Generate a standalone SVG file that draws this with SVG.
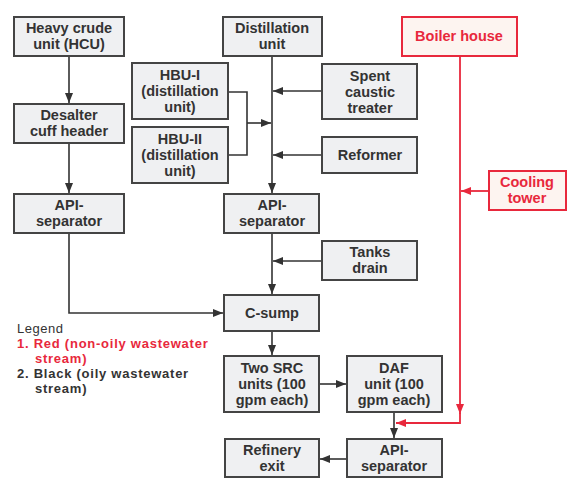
<svg xmlns="http://www.w3.org/2000/svg" width="579" height="488" viewBox="0 0 579 488">
<style>
.box rect{fill:#eff0f2;stroke:#444;stroke-width:2}
.rbox rect{fill:#fdf4f0;stroke:#e8283c;stroke-width:2}
text{font-family:"Liberation Sans",Arial,sans-serif;font-size:14.5px;font-weight:bold;fill:#333;text-anchor:middle}
.rbox text{fill:#e8283c}
.leg{text-anchor:start;font-size:13px;letter-spacing:0.75px}
.lt{font-weight:normal;letter-spacing:0.5px}
.red{fill:#e8283c}
.c{fill:none;stroke:#333;stroke-width:1.6}
.r{fill:none;stroke:#e8283c;stroke-width:1.8}
</style>
<defs>
<marker id="a" viewBox="0 0 10 8" refX="10" refY="4" markerWidth="10" markerHeight="8" markerUnits="userSpaceOnUse" orient="auto"><path d="M0,0L10,4L0,8z" fill="#333"/></marker>
<marker id="ar" viewBox="0 0 10 8" refX="10" refY="4" markerWidth="10" markerHeight="8" markerUnits="userSpaceOnUse" orient="auto"><path d="M0,0L10,4L0,8z" fill="#e8283c"/></marker>
</defs>
<g id="connectors">
<path class="c" d="M69,56V103" marker-end="url(#a)"/>
<path class="c" d="M69,143V193" marker-end="url(#a)"/>
<path class="c" d="M69,233V313H223" marker-end="url(#a)"/>
<path class="c" d="M272,56V193" marker-end="url(#a)"/>
<path class="c" d="M322,91H273" marker-end="url(#a)"/>
<path class="c" d="M322,155H273" marker-end="url(#a)"/>
<path class="c" d="M228,92H247V155H228"/>
<path class="c" d="M247,123H271" marker-end="url(#a)"/>
<path class="c" d="M272,233V294" marker-end="url(#a)"/>
<path class="c" d="M322,261H273" marker-end="url(#a)"/>
<path class="c" d="M272,331V355" marker-end="url(#a)"/>
<path class="c" d="M319,384H346" marker-end="url(#a)"/>
<path class="c" d="M394,412V438" marker-end="url(#a)"/>
<path class="c" d="M347,459H320" marker-end="url(#a)"/>
<path class="r" d="M460,56V414" marker-end="url(#ar)"/>
<path class="r" d="M460,413V423H396" marker-end="url(#ar)"/>
<path class="r" d="M489,191H461" marker-end="url(#ar)"/>
</g>
<g id="hcu" class="box"><rect x="14" y="17" width="110" height="39"/><text x="69" y="33">Heavy crude</text><text x="69" y="49">unit (HCU)</text></g>
<g id="desalter" class="box"><rect x="14" y="104" width="110" height="39"/><text x="69" y="120">Desalter</text><text x="69" y="136">cuff header</text></g>
<g id="api1" class="box"><rect x="14" y="194" width="110" height="39"/><text x="69" y="210">API-</text><text x="69" y="226">separator</text></g>
<g id="distillation" class="box"><rect x="223" y="17" width="99" height="39"/><text x="272" y="33">Distillation</text><text x="272" y="49">unit</text></g>
<g id="hbu1" class="box"><rect x="132" y="63" width="96" height="56"/><text x="180" y="80">HBU-I</text><text x="180" y="96">(distillation</text><text x="180" y="112">unit)</text></g>
<g id="hbu2" class="box"><rect x="132" y="127" width="96" height="56"/><text x="180" y="144">HBU-II</text><text x="180" y="160">(distillation</text><text x="180" y="176">unit)</text></g>
<g id="spent" class="box"><rect x="322" y="64" width="95" height="55"/><text x="370" y="81">Spent</text><text x="370" y="97">caustic</text><text x="370" y="113">treater</text></g>
<g id="reformer" class="box"><rect x="322" y="137" width="95" height="36"/><text x="370" y="160">Reformer</text></g>
<g id="api2" class="box"><rect x="224" y="194" width="95" height="39"/><text x="272" y="210">API-</text><text x="272" y="226">separator</text></g>
<g id="tanks" class="box"><rect x="322" y="241" width="95" height="39"/><text x="370" y="257">Tanks</text><text x="370" y="273">drain</text></g>
<g id="csump" class="box"><rect x="224" y="295" width="95" height="36"/><text x="272" y="318">C-sump</text></g>
<g id="src" class="box"><rect x="224" y="356" width="95" height="56"/><text x="272" y="373">Two SRC</text><text x="272" y="389">units (100</text><text x="272" y="405">gpm each)</text></g>
<g id="daf" class="box"><rect x="347" y="356" width="95" height="56"/><text x="394" y="373">DAF</text><text x="394" y="389">unit (100</text><text x="394" y="405">gpm each)</text></g>
<g id="api3" class="box"><rect x="347" y="439" width="95" height="38"/><text x="394" y="455">API-</text><text x="394" y="471">separator</text></g>
<g id="exit" class="box"><rect x="225" y="439" width="94" height="38"/><text x="272" y="455">Refinery</text><text x="272" y="471">exit</text></g>
<g id="boiler" class="rbox"><rect x="402" y="17" width="115" height="39"/><text x="459" y="41">Boiler house</text></g>
<g id="cooling" class="rbox"><rect x="489" y="171" width="77" height="39"/><text x="527" y="187">Cooling</text><text x="527" y="203">tower</text></g>
<g id="legend">
<text class="leg lt" x="17" y="333">Legend</text>
<text class="leg red" x="17" y="348">1. Red (non-oily wastewater</text>
<text class="leg red" x="35" y="363">stream)</text>
<text class="leg" x="17" y="378">2. Black (oily wastewater</text>
<text class="leg" x="35" y="393">stream)</text>
</g>
</svg>
